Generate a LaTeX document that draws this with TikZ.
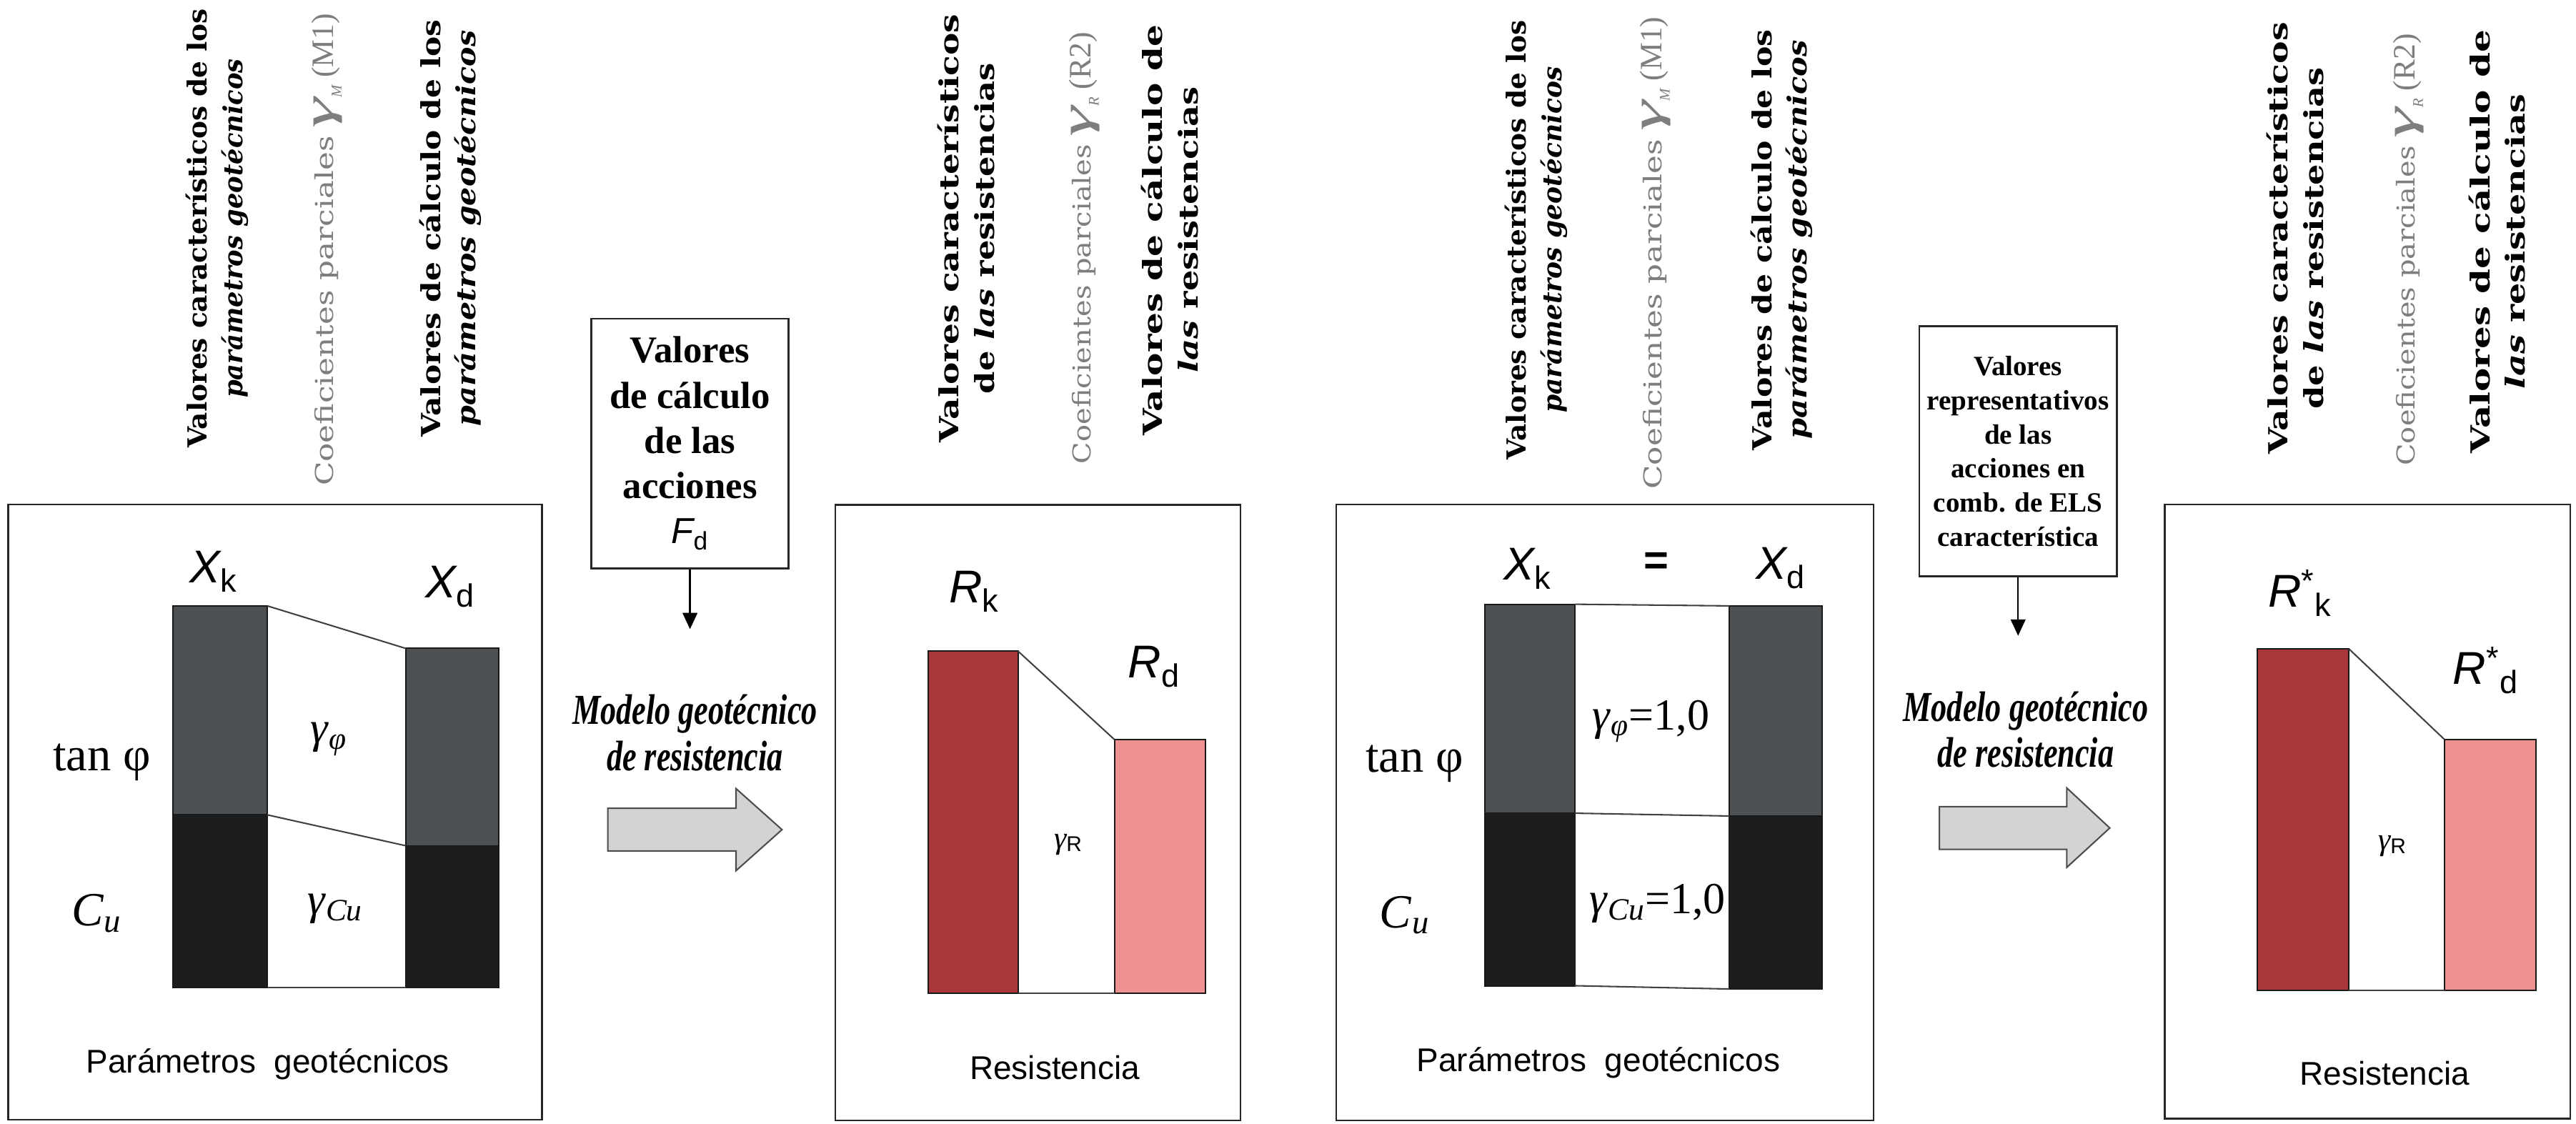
\documentclass[tikz,border=0pt]{standalone}
\usepackage{fontspec}
\usepackage{graphicx}
\setmainfont{Liberation Serif}
\setsansfont{Liberation Sans}
\newfontfamily\headfont{DejaVu Serif}
\newfontfamily\condfont[FakeStretch=0.74]{Liberation Serif}
\usetikzlibrary{arrows.meta}
\definecolor{bargray}{HTML}{4E5153}
\definecolor{barblack}{HTML}{1B1D1F}
\definecolor{barred}{HTML}{A7373A}
\definecolor{barpink}{HTML}{EE9190}
\definecolor{arrowgray}{HTML}{D3D3D3}
\definecolor{coefcol}{HTML}{7E7E7E}
\newcommand\coefgam[1]{\scalebox{1.8}[1]{\rmfamily\itshape\fontsize{26}{26}\selectfont γ}\raisebox{-5pt}{\rmfamily\itshape\fontsize{9}{9}\selectfont #1}}
\newcommand\hs[2]{\scalebox{#1}[1]{#2}}
\begin{document}
\begin{tikzpicture}[x=1pt,y=-1pt,
  panelbox/.style={draw=black!85,line width=1.1pt},
  barbox/.style={draw=black!90,line width=0.9pt},
  linkline/.style={draw=black!75,line width=0.9pt},
  hdtext/.style={rotate=90,align=center,inner sep=0pt,font=\headfont\bfseries\fontsize{16}{21.5}\selectfont},
  coeftext/.style={rotate=90,inner sep=0pt,text=coefcol,font=\headfont\fontsize{15}{18}\selectfont},
  symtext/.style={inner sep=0pt,font=\sffamily\itshape\fontsize{28}{28}\selectfont},
  gamtext/.style={inner sep=0pt,font=\rmfamily\fontsize{27}{27}\selectfont},
  labtext/.style={inner sep=0pt,font=\rmfamily\fontsize{29}{29}\selectfont},
  captext/.style={inner sep=0pt,font=\sffamily\fontsize{20}{20}\selectfont},
  actbox/.style={draw=black!85,line width=1.1pt,align=center,inner sep=0pt},
  modeltext/.style={align=center,inner sep=0pt,font=\condfont\bfseries\itshape\fontsize{26}{28}\selectfont},
  bigarrow/.style={fill=arrowgray,draw=black!70,line width=0.9pt},
  downarrow/.style={-{Triangle[length=10pt,width=9pt]},line width=1pt,draw=black}
]
\useasboundingbox (0,0) rectangle (1568,684);

% ---------------- Panel 1 ----------------
\draw[panelbox] (5,307) rectangle (330,681.5);
\filldraw[barbox,fill=bargray]  (105.3,368.8) rectangle (162.7,496);
\filldraw[barbox,fill=barblack] (105.3,496) rectangle (162.7,601);
\filldraw[barbox,fill=bargray]  (247,394.7) rectangle (303.7,514.8);
\filldraw[barbox,fill=barblack] (247,514.8) rectangle (303.7,601);
\draw[linkline] (162.7,368.8) -- (247,394.7);
\draw[linkline] (162.7,496) -- (247,514.8);
\draw[linkline] (162.7,601) -- (247,601);
\node[symtext] (xk1) at (130,348) {X\textsubscript{\upshape k}};
\node[symtext] (xd1) at (274,357) {X\textsubscript{\upshape d}};
\node[gamtext] (gphi1) at (200,450) {\textit{γ}\textsubscript{\textit{φ}}};
\node[gamtext] (gcu1) at (204,553) {\textit{γ}\textsubscript{\textit{Cu}}};
\node[labtext] (tan1) at (62,464) {tan φ};
\node[labtext] (cu1) at (59,556) {\textit{C}\textsubscript{\textit{u}}};
\node[captext] (cap1) at (163,648) {Parámetros\ \ geotécnicos};

\node[hdtext] (h1a) at (132.25,139) {\hs{1.02}{Valores característicos de los}\\\hs{0.96}{\itshape parámetros geotécnicos}};
\node[coeftext] (h1b) at (199,152) {\hs{1.27}{Coeficientes parciales}\ \coefgam{M}\ {\rmfamily\fontsize{19}{19}\selectfont (M1)}};
\node[hdtext] (h1c) at (274.25,139) {\hs{1.15}{Valores de cálculo de los}\\\hs{1.12}{\itshape parámetros geotécnicos}};

% ---------------- Action 1 ----------------
\node[actbox,minimum width=120pt,minimum height=152pt,font=\rmfamily\bfseries\fontsize{23}{27.5}\selectfont] (fd) at (420,270)
  {Valores\\de cálculo\\de las\\acciones\\{\sffamily\mdseries\itshape\fontsize{22}{27.5}\selectfont F\textsubscript{\upshape d}}};
\coordinate (fdend) at (420,383);
\draw[downarrow] (fd.south) -- (fdend);
\node[modeltext] (m1) at (423,446) {Modelo geotécnico\\de resistencia};
\draw[bigarrow] (370,492) -- (448,492) -- (448,480) -- (476,505) -- (448,530) -- (448,518) -- (370,518) -- cycle;

% ---------------- Panel 2 ----------------
\draw[panelbox] (508.5,307.4) rectangle (755,682);
\filldraw[barbox,fill=barred]  (565,396.3) rectangle (619.6,604.4);
\filldraw[barbox,fill=barpink] (678.4,450.2) rectangle (733.8,604.4);
\draw[linkline] (619.6,396.3) -- (678.4,450.2);
\draw[linkline] (619.6,604.4) -- (678.4,604.4);
\node[symtext] (rk2) at (593,360) {R\textsubscript{\upshape k}};
\node[symtext] (rd2) at (702.5,406) {R\textsubscript{\upshape d}};
\node[inner sep=0pt] (gr2) at (650,514) {{\rmfamily\itshape\fontsize{19}{19}\selectfont γ}\raisebox{-2pt}{\sffamily\fontsize{13}{13}\selectfont R}};
\node[captext] (cap2) at (642,650) {Resistencia};

\node[hdtext] (h2a) at (588,139) {\hs{1.28}{Valores característicos}\\\hs{1.22}{de \textit{las} resistencias}};
\node[coeftext] (h2b) at (660,151) {\hs{1.16}{Coeficientes parciales}\ \coefgam{R}\ {\rmfamily\fontsize{19}{19}\selectfont (R2)}};
\node[hdtext] (h2c) at (712,140) {\hs{1.32}{Valores de cálculo de}\\\hs{1.26}{\textit{las} resistencias}};

% ---------------- Panel 3 ----------------
\draw[panelbox] (813.4,307) rectangle (1140.5,682);
\filldraw[barbox,fill=bargray]  (904,367.8) rectangle (958.6,495);
\filldraw[barbox,fill=barblack] (904,495) rectangle (958.6,600);
\filldraw[barbox,fill=bargray]  (1052.6,368.8) rectangle (1109,496.7);
\filldraw[barbox,fill=barblack] (1052.6,496.7) rectangle (1109,602);
\draw[linkline] (958.6,367.8) -- (1052.6,368.8);
\draw[linkline] (958.6,495) -- (1052.6,496.7);
\draw[linkline] (958.6,600) -- (1052.6,602);
\node[symtext] (xk3) at (930,346) {X\textsubscript{\upshape k}};
\node[inner sep=0pt,font=\sffamily\bfseries\fontsize{26}{26}\selectfont] (eq3) at (1008,343) {=};
\node[symtext] (xd3) at (1084,346) {X\textsubscript{\upshape d}};
\node[gamtext] (gphi3) at (1005,439) {\textit{γ}\textsubscript{\textit{φ}}=1,0};
\node[gamtext] (gcu3) at (1009,550) {\textit{γ}\textsubscript{\textit{Cu}}=1,0};
\node[labtext] (tan3) at (861,465) {tan φ};
\node[labtext] (cu3) at (855,557) {\textit{C}\textsubscript{\textit{u}}};
\node[captext] (cap3) at (973,647) {Parámetros\ \ geotécnicos};

\node[hdtext] (h3a) at (935,146) {\hs{1.02}{Valores característicos de los}\\\hs{0.98}{\itshape parámetros geotécnicos}};
\node[coeftext] (h3b) at (1007.5,154) {\hs{1.27}{Coeficientes parciales}\ \coefgam{M}\ {\rmfamily\fontsize{19}{19}\selectfont (M1)}};
\node[hdtext] (h3c) at (1084.6,146) {\hs{1.16}{Valores de cálculo de los}\\\hs{1.13}{\itshape parámetros geotécnicos}};

% ---------------- Action 2 ----------------
\node[actbox,minimum width=120.4pt,minimum height=152.2pt,font=\rmfamily\bfseries\fontsize{17}{20.8}\selectfont] (ser) at (1228.4,274.7)
  {Valores\\representativos\\de las\\acciones en\\comb. de ELS\\característica};
\coordinate (serend) at (1228.4,387);
\draw[downarrow] (ser.south) -- (serend);
\node[modeltext] (m2) at (1233,444) {Modelo geotécnico\\de resistencia};
\draw[bigarrow] (1180.5,491) -- (1258,491) -- (1258,479.6) -- (1284.2,504) -- (1258,528) -- (1258,517) -- (1180.5,517) -- cycle;

% ---------------- Panel 4 ----------------
\draw[panelbox] (1317.7,307) rectangle (1564.5,681);
\filldraw[barbox,fill=barred]  (1374,395) rectangle (1429.8,603);
\filldraw[barbox,fill=barpink] (1487.8,450) rectangle (1543.5,603);
\draw[linkline] (1429.8,395) -- (1487.8,450);
\draw[linkline] (1429.8,603) -- (1487.8,603);
\node[symtext] (rk4) at (1400,361) {R\textsuperscript{\upshape *}\textsubscript{\upshape k}};
\node[symtext] (rd4) at (1513,408) {R\textsuperscript{\upshape *}\textsubscript{\upshape d}};
\node[inner sep=0pt] (gr4) at (1456,515) {{\rmfamily\itshape\fontsize{19}{19}\selectfont γ}\raisebox{-2pt}{\sffamily\fontsize{13}{13}\selectfont R}};
\node[captext] (cap4) at (1451.5,653.5) {Resistencia};

\node[hdtext] (h4a) at (1397,145) {\hs{1.29}{Valores característicos}\\\hs{1.26}{de \textit{las} resistencias}};
\node[coeftext] (h4b) at (1466,152) {\hs{1.16}{Coeficientes parciales}\ \coefgam{R}\ {\rmfamily\fontsize{19}{19}\selectfont (R2)}};
\node[hdtext] (h4c) at (1520,147) {\hs{1.36}{Valores de cálculo de}\\\hs{1.30}{\textit{las} resistencias}};
\end{tikzpicture}
\end{document}
